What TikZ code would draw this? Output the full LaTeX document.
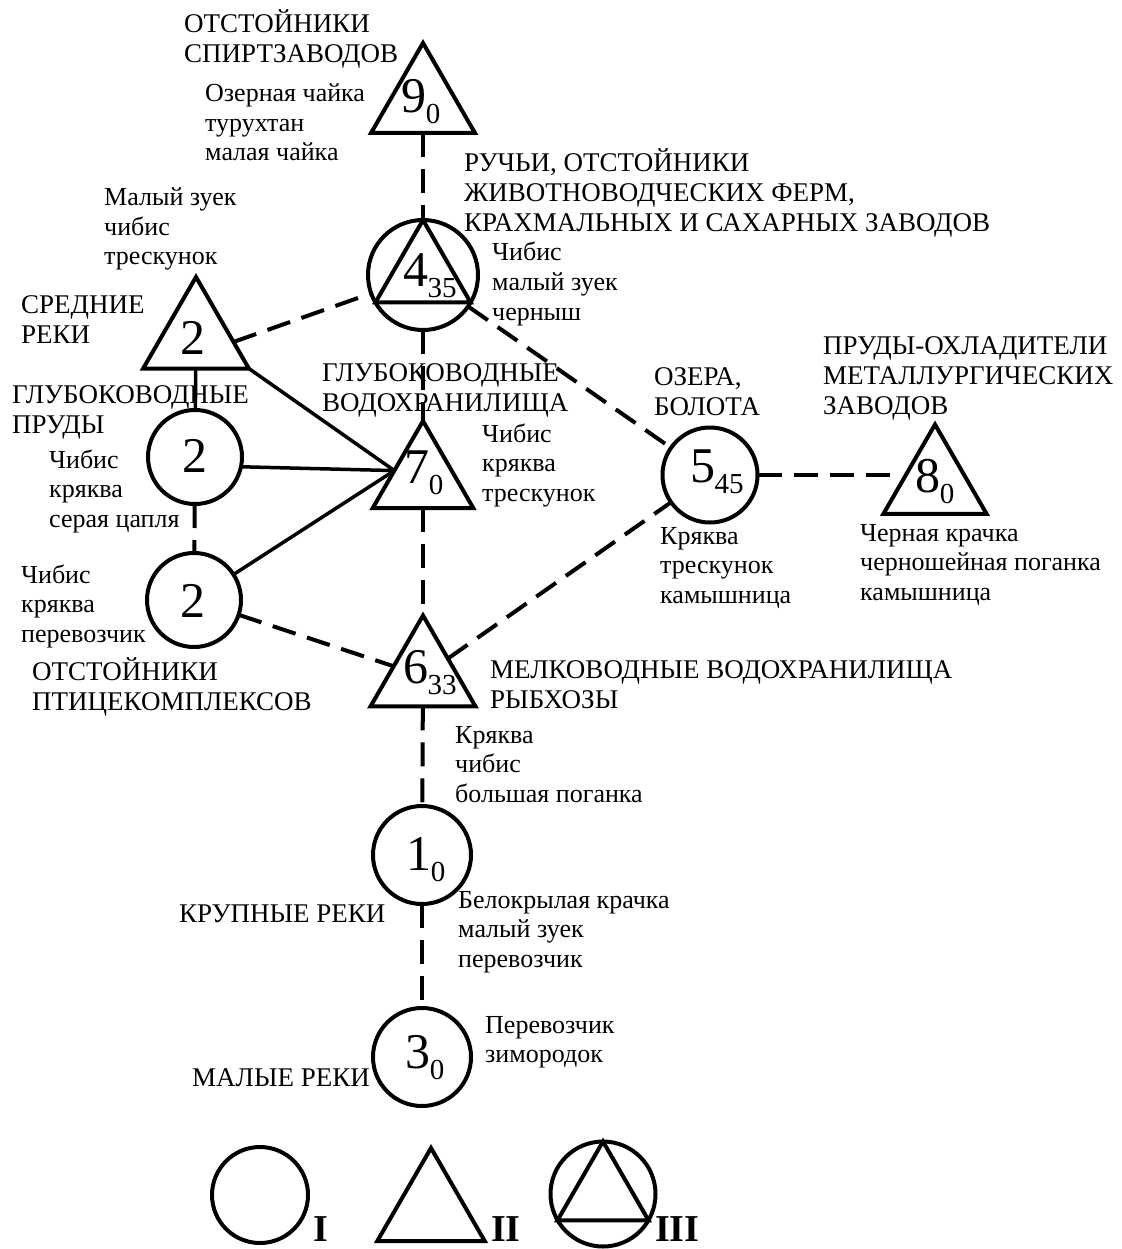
\documentclass[tikz,border=0pt]{standalone}
\usepackage{fontspec}
\setmainfont{Liberation Serif}
\usetikzlibrary{shapes.geometric,calc}
\newcommand\dsub[2]{{\fontsize{50}{50}\selectfont #1}\kern-1pt\raisebox{-11pt}{\fontsize{29}{29}\selectfont #2}}
\newcommand\bigd[1]{{\fontsize{50}{50}\selectfont #1}}
\newcommand\lns[1]{\begin{tabular}[t]{@{}l@{}}#1\end{tabular}}
\begin{document}
\begin{tikzpicture}[x=1pt,y=-1pt,
  shp/.style={draw, line width=4pt, inner sep=0pt, outer sep=0pt},
  tri/.style={shp, regular polygon, regular polygon sides=3, minimum size=#1},
  circ/.style={shp, circle, minimum size=#1},
  dsh/.style={line width=4pt, dash pattern=on 24pt off 12pt},
  sld/.style={line width=3.5pt},
  capl/.style={anchor=base west, inner sep=0pt, font=\fontsize{27}{30}\selectfont},
  spl/.style={anchor=base west, inner sep=0pt, font=\fontsize{26}{29.5}\selectfont},
  num/.style={inner sep=0pt},
  legl/.style={anchor=base west, inner sep=0pt, font=\fontsize{38}{38}\selectfont\bfseries}]
\useasboundingbox[fill=white] (0,0) rectangle (1121,1249);

% shapes
\node[tri=120] (t9) at (423,103) {};
\node[circ=110] (c4) at (423,275) {};
\draw[line width=4pt, line join=miter] (c4.90) -- (c4.210) -- (c4.330) -- cycle;
\node[tri=122] (t2) at (196,338) {};
\node[circ=94] (c2a) at (195,457) {};
\node[circ=94] (c2b) at (194,600) {};
\node[tri=116] (t7) at (423,479) {};
\node[circ=95] (c5) at (710,475) {};
\node[tri=119] (t8) at (935,484) {};
\node[tri=121] (t6) at (423,676) {};
\node[circ=98] (c1) at (422,855) {};
\node[circ=98] (c3) at (422,1057) {};

\coordinate (conv) at ($(t7.corner 1)!0.57!(t7.corner 2)$);
\coordinate (t2r) at ($(t2.corner 3)!0.29!(t2.corner 1)$);

% numbers
\node[num] (n9) at (421,102) {\dsub{9}{0}};
\node[num] (n4) at (430,276) {\dsub{4}{35}};
\node[num] (n2t) at (193,338) {\bigd{2}};
\node[num] (n2a) at (195,456) {\bigd{2}};
\node[num] (n2b) at (193,601) {\bigd{2}};
\node[num] (n7) at (424,473) {\dsub{7}{0}};
\node[num] (n5) at (717,472) {\dsub{5}{45}};
\node[num] (n8) at (935,482) {\dsub{8}{0}};
\node[num] (n6) at (430,673) {\dsub{6}{33}};
\node[num] (n1) at (426,860) {\dsub{1}{0}};
\node[num] (n3) at (425,1058) {\dsub{3}{0}};

% connectors
\draw[dsh] (t9) -- (c4);
\draw[dsh] (c4) -- (t7);
\draw[dsh] (t7) -- (t6);
\draw[dsh] (t6) -- (c1);
\draw[dsh] (c1) -- (c3);
\draw[dsh] (t2r) -- (c4);
\draw[dsh] (c4) -- (c5);
\draw[dsh] (c5.east) -- (t8.west |- c5.east);
\draw[dsh] (c2b) -- (t6);
\draw[dsh] (t6) -- (c5);
\draw[dsh] (c2a) -- (c2b);
\draw[sld] (t2) -- (c2a);
\draw[sld] (t2.corner 3) -- (conv);
\draw[sld] (c2a.-12) -- (conv);
\draw[sld] (c2b) -- (conv);

% caps labels
\node[capl] (l9) at (184,33) {\lns{ОТСТОЙНИКИ\\СПИРТЗАВОДОВ}};
\node[capl] (l4) at (464,172) {\lns{РУЧЬИ, ОТСТОЙНИКИ\\ЖИВОТНОВОДЧЕСКИХ ФЕРМ,\\КРАХМАЛЬНЫХ И САХАРНЫХ ЗАВОДОВ}};
\node[capl] (l2t) at (21,313) {\lns{СРЕДНИЕ\\РЕКИ}};
\node[capl] (l2a) at (12,403) {\lns{ГЛУБОКОВОДНЫЕ\\ПРУДЫ}};
\node[capl] (l7) at (322,381) {\lns{ГЛУБОКОВОДНЫЕ\\ВОДОХРАНИЛИЩА}};
\node[capl] (l5) at (654,385) {\lns{ОЗЕРА,\\БОЛОТА}};
\node[capl] (l8) at (823,354) {\lns{ПРУДЫ-ОХЛАДИТЕЛИ\\МЕТАЛЛУРГИЧЕСКИХ\\ЗАВОДОВ}};
\node[capl] (l2b) at (32,680) {\lns{ОТСТОЙНИКИ\\ПТИЦЕКОМПЛЕКСОВ}};
\node[capl] (l6) at (490,678) {\lns{МЕЛКОВОДНЫЕ ВОДОХРАНИЛИЩА\\РЫБХОЗЫ}};
\node[capl] (l1) at (179,922) {КРУПНЫЕ РЕКИ};
\node[capl] (l3) at (192,1086) {МАЛЫЕ РЕКИ};

% species
\node[spl] (s9) at (205,102) {\lns{Озерная чайка\\турухтан\\малая чайка}};
\node[spl] (s4) at (492,261) {\lns{Чибис\\малый зуек\\черныш}};
\node[spl] (s2t) at (104,206) {\lns{Малый зуек\\чибис\\трескунок}};
\node[spl] (s7) at (482,442) {\lns{Чибис\\кряква\\трескунок}};
\node[spl] (s2a) at (49,468) {\lns{Чибис\\кряква\\серая цапля}};
\node[spl] (s2b) at (21,583) {\lns{Чибис\\кряква\\перевозчик}};
\node[spl] (s5) at (660,544) {\lns{Кряква\\трескунок\\камышница}};
\node[spl] (s8) at (860,541) {\lns{Черная крачка\\черношейная поганка\\камышница}};
\node[spl] (s6) at (455,743) {\lns{Кряква\\чибис\\большая поганка}};
\node[spl] (s1) at (458,908) {\lns{Белокрылая крачка\\малый зуек\\перевозчик}};
\node[spl] (s3) at (485,1033) {\lns{Перевозчик\\зимородок}};

% legend
\node[circ=96] (leg1) at (260,1195) {};
\node[tri=124] (leg2) at (431,1210) {};
\node[circ=105] (leg3) at (603,1194) {};
\draw[line width=4pt, line join=miter] (leg3.90) -- (leg3.210) -- (leg3.330) -- cycle;
\node[legl] (lg1) at (313,1241) {I};
\node[legl] (lg2) at (491,1241) {II};
\node[legl] (lg3) at (655,1241) {III};
\end{tikzpicture}
\end{document}
